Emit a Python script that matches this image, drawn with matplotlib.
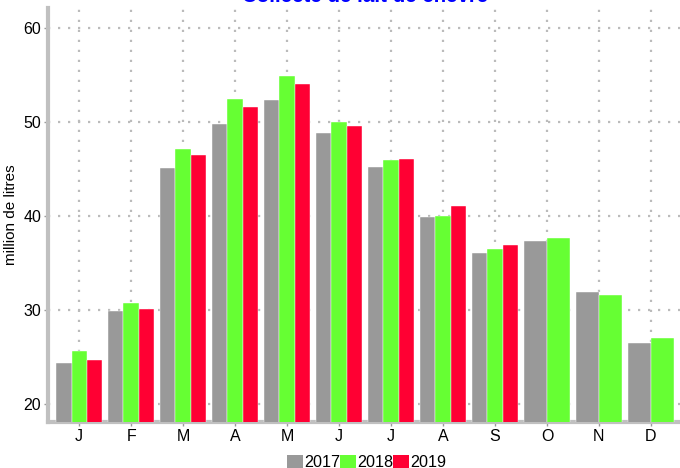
import matplotlib
matplotlib.use("Agg")
import matplotlib.pyplot as plt
import numpy as np
from matplotlib.patches import Patch

plt.rcParams['font.family'] = ['Liberation Sans', 'DejaVu Sans']

months = ["J", "F", "M", "A", "M", "J", "J", "A", "S", "O", "N", "D"]
years = ["2017", "2018", "2019"]
v2017 = [24.4, 29.9, 45.1, 49.8, 52.3, 48.8, 45.2, 39.9, 36.1, 37.3, 31.9, 26.5]
v2018 = [25.6, 30.7, 47.1, 52.4, 54.9, 50.0, 45.9, 40.0, 36.5, 37.6, 31.6, 27.0]
v2019 = [24.7, 30.1, 46.5, 51.6, 54.0, 49.6, 46.0, 41.0, 36.9, None, None, None]
colors = ["#999999", "#66ff33", "#ff0033"]

fig = plt.figure(figsize=(6.8, 4.68), dpi=100)
ax = fig.add_axes([48/680, 1-422/468, 1-48/680, (422-8)/468])

series = [v2017, v2018, v2019]
total = 0.885
for i in range(len(months)):
    present = [(k, s[i]) for k, s in enumerate(series) if s[i] is not None]
    n = len(present)
    w = total / n
    for j, (k, val) in enumerate(present):
        xc = i - total/2 + w*(j+0.5)
        ax.bar(xc, val, width=w, color=colors[k], edgecolor='white', linewidth=0.3, zorder=3)

ax.set_xlim(-0.6, 11.56)
ax.set_ylim(18.08, 62.1)
ax.set_xticks(range(len(months)))
ax.set_xticklabels(months)
ax.set_yticks([20, 30, 40, 50, 60])
ax.grid(True, color='#bbbbbb', linestyle=(0, (1, 3.5)), linewidth=1.6, zorder=0)
for s in ['top', 'right']:
    ax.spines[s].set_visible(False)
for s in ['left', 'bottom']:
    ax.spines[s].set_color('#c0c0c0')
    ax.spines[s].set_linewidth(3)
ax.tick_params(axis='both', colors='#999999', labelcolor='black', labelsize=11.5, length=3, width=1, pad=2)
ax.set_ylabel("million de litres", fontsize=11)
ax.yaxis.set_label_coords((18 - 48) / 632, 0.5)

fig.text(0.537, 1 - 1.5/468, "Collecte de lait de chèvre", color='#0000ff', fontsize=14.8,
         fontweight='bold', ha='center', va='baseline')

handles = [Patch(facecolor=c, edgecolor='none') for c in colors]
fig.legend(handles, years, loc='center', bbox_to_anchor=(0.539, 0.012), ncol=3, frameon=False,
           fontsize=11.6, handlelength=1.0, handleheight=1.0, handletextpad=0.05, columnspacing=0.0,
           borderpad=0)

fig.savefig("out.png", dpi=100)
